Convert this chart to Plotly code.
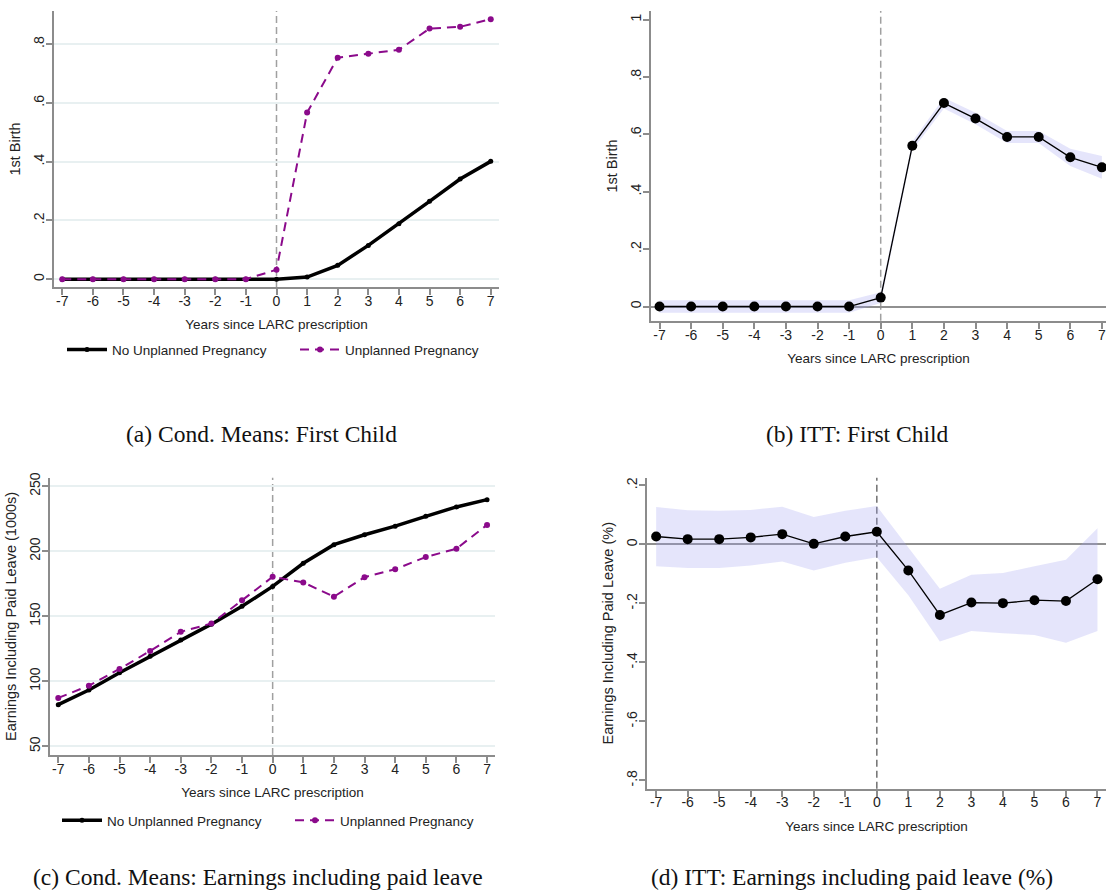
import plotly.graph_objects as go

# ---------------- data ----------------
years = [-7, -6, -5, -4, -3, -2, -1, 0, 1, 2, 3, 4, 5, 6, 7]
year_ticktext = ["-7", "-6", "-5", "-4", "-3", "-2", "-1", "0", "1", "2", "3", "4", "5", "6", "7"]

# (a) Cond. means: first child
a_no_unplanned = [0, 0, 0, 0, 0, 0, 0, 0, 0.007, 0.047, 0.115, 0.189, 0.265, 0.341, 0.401]
a_unplanned = [0, 0, 0, 0, 0, 0, 0, 0.032, 0.567, 0.754, 0.767, 0.781, 0.853, 0.859, 0.885]
a_tickvals = [0, 0.2, 0.4, 0.6, 0.8]
a_ticktext = ["0", ".2", ".4", ".6", ".8"]

# (b) ITT: first child
b_est = [0, 0, 0, 0, 0, 0, 0, 0.031, 0.56, 0.709, 0.655, 0.591, 0.591, 0.52, 0.485]
b_lo = [-0.022, -0.022, -0.022, -0.022, -0.022, -0.022, -0.022, 0.012, 0.545, 0.69, 0.635, 0.57, 0.57, 0.49, 0.445]
b_hi = [0.022, 0.022, 0.022, 0.022, 0.022, 0.022, 0.022, 0.05, 0.575, 0.728, 0.675, 0.612, 0.612, 0.55, 0.525]
b_tickvals = [0, 0.2, 0.4, 0.6, 0.8, 1]
b_ticktext = ["0", ".2", ".4", ".6", ".8", "1"]

# (c) Cond. means: earnings including paid leave (1000s)
c_no_unplanned = [82.0, 93.3, 106.5, 119.2, 131.7, 143.9, 157.6, 172.9, 190.7, 205.0, 212.6, 219.2, 226.8, 234.0, 239.6]
c_unplanned = [87.2, 96.6, 109.5, 123.3, 138.0, 144.4, 162.2, 180.3, 176.0, 165.0, 180.0, 186.1, 195.5, 201.9, 220.2]
c_tickvals = [50, 100, 150, 200, 250]
c_ticktext = ["50", "100", "150", "200", "250"]

# (d) ITT: earnings including paid leave (%)
d_est = [0.027, 0.018, 0.018, 0.024, 0.035, 0.002, 0.027, 0.043, -0.088, -0.239, -0.197, -0.199, -0.189, -0.192, -0.118]
d_lo = [-0.074, -0.080, -0.080, -0.071, -0.058, -0.088, -0.062, -0.043, -0.172, -0.329, -0.293, -0.301, -0.307, -0.333, -0.293]
d_hi = [0.127, 0.116, 0.114, 0.117, 0.128, 0.093, 0.114, 0.130, -0.010, -0.150, -0.103, -0.097, -0.074, -0.052, 0.055]
d_tickvals = [-0.8, -0.6, -0.4, -0.2, 0, 0.2]
d_ticktext = ["-.8", "-.6", "-.4", "-.2", "0", ".2"]

event_year = 0
xtitle = "Years since LARC prescription"
captions = ["(a) Cond. Means: First Child", "(b) ITT: First Child",
            "(c) Cond. Means: Earnings including paid leave", "(d) ITT: Earnings including paid leave (%)"]
legend_names = ["No Unplanned Pregnancy", "Unplanned Pregnancy"]

# ---------------- styles ----------------
W, H = 1106, 890
PURPLE = "#8B0A8B"
AXIS = "#8c8c8c"
GRID = "#E8F0F1"
BAND = "rgba(160,160,240,0.27)"
TICKFONT = dict(family="Liberation Sans, Arial", size=14, color="#222")
TITLEFONT = dict(family="Liberation Sans, Arial", size=13.5, color="#222")
YTITLEFONT = dict(family="Liberation Sans, Arial", size=14.5, color="#222")

def px_x(a, b):
    return [a / W, min(b / W, 1.0)]

def px_y(top, bottom):
    return [(H - bottom) / H, (H - top) / H]

fig = go.Figure()

# (a)
fig.add_trace(go.Scatter(x=years, y=a_no_unplanned, mode="lines+markers", name=legend_names[0],
                         line=dict(color="black", width=3.5), marker=dict(color="black", size=5),
                         xaxis="x", yaxis="y", legend="legend"))
fig.add_trace(go.Scatter(x=years, y=a_unplanned, mode="lines+markers", name=legend_names[1],
                         line=dict(color=PURPLE, width=2, dash="9px,6px"), marker=dict(color=PURPLE, size=6),
                         xaxis="x", yaxis="y", legend="legend"))
# (b)
fig.add_trace(go.Scatter(x=years + years[::-1], y=b_hi + b_lo[::-1], fill="toself", fillcolor=BAND,
                         line=dict(width=0), mode="lines", showlegend=False, hoverinfo="skip",
                         xaxis="x2", yaxis="y2"))
fig.add_trace(go.Scatter(x=years, y=b_est, mode="lines+markers", showlegend=False,
                         line=dict(color="black", width=1.3), marker=dict(color="black", size=10),
                         xaxis="x2", yaxis="y2"))
# (c)
fig.add_trace(go.Scatter(x=years, y=c_no_unplanned, mode="lines+markers", name=legend_names[0],
                         line=dict(color="black", width=3.5), marker=dict(color="black", size=5),
                         xaxis="x3", yaxis="y3", legend="legend2"))
fig.add_trace(go.Scatter(x=years, y=c_unplanned, mode="lines+markers", name=legend_names[1],
                         line=dict(color=PURPLE, width=2, dash="9px,6px"), marker=dict(color=PURPLE, size=6),
                         xaxis="x3", yaxis="y3", legend="legend2"))
# (d)
fig.add_trace(go.Scatter(x=years + years[::-1], y=d_hi + d_lo[::-1], fill="toself", fillcolor=BAND,
                         line=dict(width=0), mode="lines", showlegend=False, hoverinfo="skip",
                         xaxis="x4", yaxis="y4"))
fig.add_trace(go.Scatter(x=years, y=d_est, mode="lines+markers", showlegend=False,
                         line=dict(color="black", width=1.3), marker=dict(color="black", size=10),
                         xaxis="x4", yaxis="y4"))

def xaxis_cfg(domain, rng, anchor):
    return dict(domain=domain, range=rng, anchor=anchor, tickvals=years, ticktext=year_ticktext,
                showline=True, linecolor=AXIS, linewidth=2, ticks="outside", ticklen=6, tickcolor=AXIS,
                tickwidth=1.5, showgrid=False, zeroline=False, tickfont=TICKFONT, ticklabelstandoff=-6,
                title=dict(text=xtitle, font=TITLEFONT, standoff=12))

def yaxis_cfg(domain, rng, anchor, tv, tt, title, grid, zeroline):
    return dict(domain=domain, range=rng, anchor=anchor, tickvals=tv, ticktext=tt, tickangle=-90,
                showline=True, linecolor=AXIS, linewidth=2, ticks="outside", ticklen=6, tickcolor=AXIS,
                tickwidth=1.5, showgrid=grid, gridcolor=GRID, gridwidth=1.5,
                zeroline=zeroline, zerolinecolor="#909090", zerolinewidth=1.5, ticklabelstandoff=-4,
                tickfont=TICKFONT, title=dict(text=title, font=YTITLEFONT, standoff=7))

LEG_ENTRY = 178
fig.update_layout(
    width=W, height=H, margin=dict(l=0, r=0, t=0, b=0),
    paper_bgcolor="white", plot_bgcolor="white",
    xaxis=xaxis_cfg(px_x(54, 499), [-7.27, 7.27], "y"),
    yaxis=yaxis_cfg(px_y(5, 283), [-0.027, 0.913], "x", a_tickvals, a_ticktext, "1st Birth", True, False),
    xaxis2=xaxis_cfg(px_x(651, 1106), [-7.27, 7.13], "y2"),
    yaxis2=yaxis_cfg(px_y(5, 317), [-0.05, 1.03], "x2", b_tickvals, b_ticktext, "1st Birth", False, True),
    xaxis3=xaxis_cfg(px_x(50, 495), [-7.27, 7.26], "y3"),
    yaxis3=yaxis_cfg(px_y(475, 754), [43.4, 256.4], "x3", c_tickvals, c_ticktext,
                     "Earnings Including Paid Leave (1000s)", True, False),
    xaxis4=xaxis_cfg(px_x(647, 1106), [-7.29, 7.27], "y4"),
    yaxis4=yaxis_cfg(px_y(475, 788), [-0.828, 0.226], "x4", d_tickvals, d_ticktext,
                     "Earnings Including Paid Leave (%)", False, True),
    legend=dict(orientation="h", x=62 / W, xanchor="left", y=(H - 346) / H, yanchor="middle",
                font=TITLEFONT, bgcolor="rgba(0,0,0,0)", itemwidth=40,
                entrywidth=LEG_ENTRY, entrywidthmode="pixels"),
    legend2=dict(orientation="h", x=57 / W, xanchor="left", y=(H - 820) / H, yanchor="middle",
                 font=TITLEFONT, bgcolor="rgba(0,0,0,0)", itemwidth=40,
                 entrywidth=LEG_ENTRY, entrywidthmode="pixels"),
    showlegend=True,
)

# vertical reference lines at event year
for xr, yr, col in [("x", "y domain", "#a0a0a0"), ("x2", "y2 domain", "#a0a0a0"),
                    ("x3", "y3 domain", "#a0a0a0"), ("x4", "y4 domain", "#707070")]:
    fig.add_shape(type="line", xref=xr, yref=yr, x0=event_year, x1=event_year, y0=0, y1=1,
                  line=dict(color=col, width=1.5, dash="7px,4px"), layer="below")

# captions
cap_font = dict(family="Liberation Serif, Times New Roman, serif", size=23.5, color="#111")
cap_pos = [(261, 431), (857, 431), (258, 877), (852, 877)]
for text, (cx, cy) in zip(captions, cap_pos):
    fig.add_annotation(text=text, x=cx / W, y=(H - cy) / H, xref="paper", yref="paper",
                       showarrow=False, font=cap_font, xanchor="center", yanchor="middle")

fig.write_html("out.html")
